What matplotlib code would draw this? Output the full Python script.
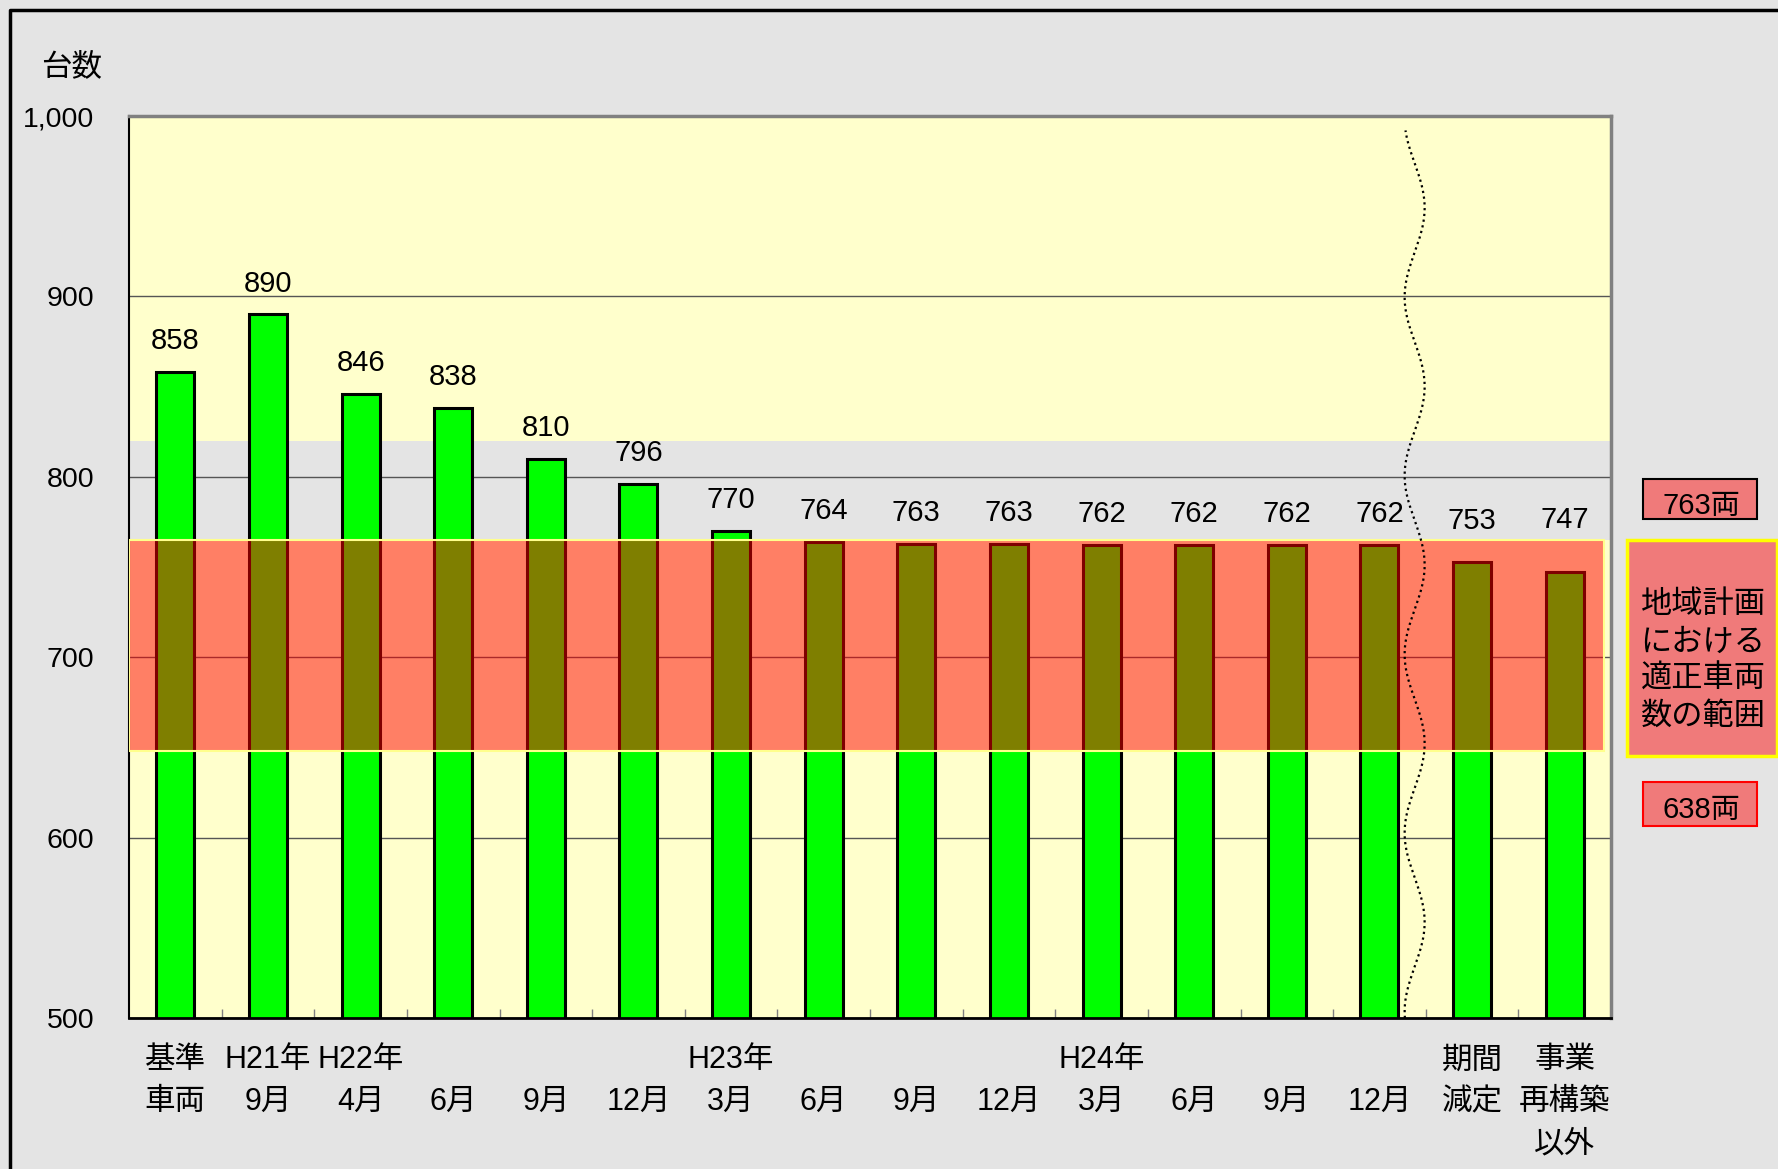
import numpy as np
import matplotlib
matplotlib.use('Agg')
import matplotlib.pyplot as plt
from matplotlib.patches import Rectangle
from matplotlib.lines import Line2D

# ---------------- data ----------------
line1 = ['基準', 'H21年', 'H22年', '', '', '', 'H23年', '', '', '', 'H24年', '', '', '', '期間', '事業']
line2 = ['車両', '9月', '4月', '6月', '9月', '12月', '3月', '6月', '9月', '12月', '3月', '6月', '9月', '12月', '減定', '再構築']
line3 = ['', '', '', '', '', '', '', '', '', '', '', '', '', '', '', '以外']
values = [858, 890, 846, 838, 810, 796, 770, 764, 763, 763, 762, 762, 762, 762, 753, 747]
y_ticks = [500, 600, 700, 800, 900, 1000]
y_tick_labels = ['500', '600', '700', '800', '900', '1,000']
band_low, band_high = 648, 765
grey_low, grey_high = 765, 820
y_title = '台数'
upper_label = '763両'
lower_label = '638両'
range_label = '地域計画\nにおける\n適正車両\n数の範囲'

# extra upward shift (points) of the value labels for the last two bars
label_lift = [0] * 14 + [7, 15.5]

plt.rcParams['font.family'] = ['Liberation Sans', 'Noto Sans CJK JP']

W, H = 1778, 1169
fig = plt.figure(figsize=(W / 100, H / 100), dpi=100)
bg = '#E4E4E4'
fig.patch.set_facecolor(bg)

def fx(px):
    return px / W

def fy(py):
    return 1 - py / H

ax = fig.add_axes([fx(129), fy(1018), fx(1611) - fx(129), fy(116) - fy(1018)])
ax.set_facecolor('#FFFFCC')
x = np.arange(len(values))

ax.axhspan(grey_low, grey_high, color=bg, zorder=0.2, lw=0)
ax.set_axisbelow(True)
ax.yaxis.grid(True, color='#555555', lw=1)

ax.bar(x, values, width=0.41, color='#00FF00', edgecolor='black', linewidth=2.2, zorder=2)
ax.axhspan(band_low, band_high, xmin=0, xmax=0.995, facecolor=(1, 0, 0, 0.5),
           edgecolor=(1, 1, 0.55, 1), lw=1.5, zorder=3)

for xi, v, lift in zip(x, values, label_lift):
    ax.annotate(str(v), (xi, v), xytext=(0, 16.5 + lift), textcoords='offset points',
                ha='center', va='baseline', fontsize=21, zorder=5)

# wavy break line between the last regular month and the projections
yy = np.linspace(500, 992, 400)
xx = 13.38 - 0.108 * np.cos(2 * np.pi * (yy - 899.6) / 99)
ax.plot(xx, yy, color='black', lw=1.6, ls=(0, (1, 1.6)), zorder=4)

ax.set_xlim(-0.5, 15.5)
ax.set_ylim(500, 1000)
ax.set_xticks([])
ax.set_xticks(x[:-1] + 0.5, minor=True)
ax.tick_params(axis='x', which='minor', direction='in', length=6.5, color='#808080', width=1)
ax.set_yticks(y_ticks, labels=y_tick_labels)
ax.tick_params(axis='y', length=0, pad=25, labelsize=20.5)

for s in ['left', 'bottom']:
    ax.spines[s].set_color('black')
ax.spines['left'].set_linewidth(1.5)
ax.spines['bottom'].set_linewidth(2)
for s in ['top', 'right']:
    ax.spines[s].set_color('#808080')
    ax.spines[s].set_linewidth(2.5)

for row, off in zip([line1, line2, line3], [30.5, 60.5, 91]):
    for xi, t in zip(x, row):
        if t:
            ax.annotate(t, (xi, 0), xycoords=('data', 'axes fraction'), xytext=(0, -off),
                        textcoords='offset points', ha='center', va='center', fontsize=22,
                        annotation_clip=False)

fig.text(fx(72), fy(67), y_title, ha='center', va='center', fontsize=22)

# right-hand annotation boxes
box_face = '#F07A7A'
def add_box(x0, y0, x1, y1, edge, lw):
    fig.add_artist(Rectangle((fx(x0), fy(y1)), fx(x1) - fx(x0), fy(y0) - fy(y1),
                             transform=fig.transFigure, facecolor=box_face,
                             edgecolor=edge, lw=lw))

add_box(1643, 479, 1757, 519, 'black', 1.5)
fig.text(fx(1701), fy(506), upper_label, ha='center', va='center', fontsize=21)
add_box(1627, 540, 1777, 756, '#FFFF00', 2.5)
fig.text(fx(1703), fy(661), range_label, ha='center', va='center', fontsize=22.5,
         linespacing=1.31)
add_box(1643, 782, 1757, 826, '#FF0000', 1.5)
fig.text(fx(1701), fy(810), lower_label, ha='center', va='center', fontsize=21)

# outer frame
fig.add_artist(Line2D([fx(10), fx(10), 1.0], [0.0, fy(10), fy(10)],
                      transform=fig.transFigure, color='black', lw=2.5))

fig.savefig('out.png', dpi=100, facecolor=fig.get_facecolor())
